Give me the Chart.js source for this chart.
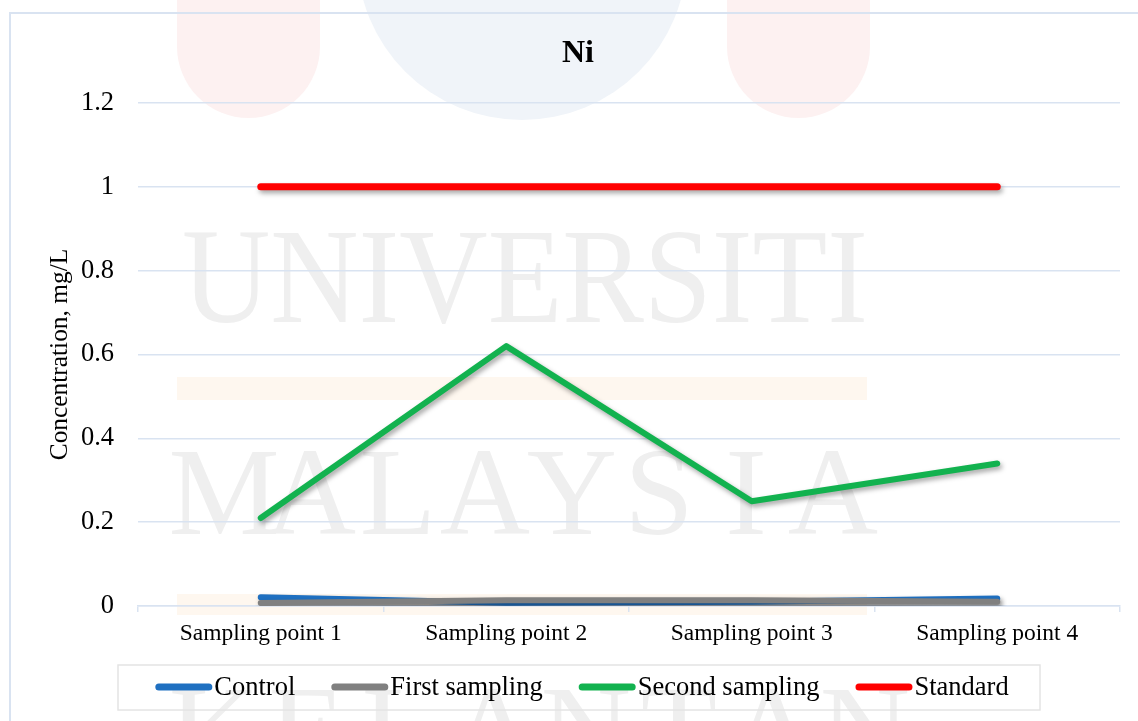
<!DOCTYPE html>
<html>
<head>
<meta charset="utf-8">
<script src="https://cdn.jsdelivr.net/npm/chart.js@4.4.1/dist/chart.umd.min.js"></script>
<style>
  html, body { margin: 0; padding: 0; background: #ffffff; overflow: hidden; }
  #wrap { width: 1138px; height: 721px; position: relative; }
  canvas { display: block; }
</style>
</head>
<body>
<div id="wrap"><canvas id="chart" width="1138" height="721"></canvas></div>
<script>
// ---- data ----
const chartTitle = 'Ni';
const axisTitle = 'Concentration, mg/L';
const categories = ['Sampling point 1', 'Sampling point 2', 'Sampling point 3', 'Sampling point 4'];
const yTicks = [0, 0.2, 0.4, 0.6, 0.8, 1, 1.2];
const yTickLabels = ['0', '0.2', '0.4', '0.6', '0.8', '1', '1.2'];
const controlValues = [0.021, 0.008, 0.010, 0.018];
const firstSamplingValues = [0.007, 0.014, 0.014, 0.010];
const secondSamplingValues = [0.21, 0.62, 0.25, 0.34];
const standardValues = [1, 1, 1, 1];
const seriesNames = ['Control', 'First sampling', 'Second sampling', 'Standard'];
const seriesColors = ['#1f70c1', '#808080', '#12b24f', '#ff0000'];
const watermarkWords = ['UNIVERSITI', 'MALAYSIA', 'KELANTAN'];

// ---- styling ----
const SERIF = '"Liberation Serif", "Times New Roman", Times, serif';
const GRID = '#d9e3f1';

// faint university crest and lettering behind the plot
const backdrop = {
  id: 'backdrop',
  beforeDraw(chart) {
    const ctx = chart.ctx;
    ctx.save();
    ctx.fillStyle = '#ffffff';
    ctx.fillRect(0, 0, chart.width, chart.height);

    const pill = (x0, x1, bottom, color) => {
      const r = (x1 - x0) / 2;
      ctx.fillStyle = color;
      ctx.beginPath();
      ctx.moveTo(x0, -300);
      ctx.lineTo(x0, bottom - r);
      ctx.arc(x0 + r, bottom - r, r, Math.PI, 0, true);
      ctx.lineTo(x1, -300);
      ctx.closePath();
      ctx.fill();
    };
    pill(177, 320, 118, '#fdf1f1');
    pill(727, 870, 118, '#fdf1f1');
    pill(357, 687, 120, '#f0f4f9');

    ctx.fillStyle = '#fef7ef';
    ctx.fillRect(177, 377, 690, 23);
    ctx.fillRect(177, 594, 690, 21);

    ctx.fillStyle = '#efefef';
    ctx.textBaseline = 'alphabetic';
    ctx.textAlign = 'left';
    ctx.font = '136px ' + SERIF;
    ctx.fillText(watermarkWords[0], 182, 322, 686);

    ctx.textAlign = 'center';
    ctx.font = '125px ' + SERIF;
    const spaced = (word, x0, step, base) => {
      [...word].forEach((ch, i) => ctx.fillText(ch, x0 + i * step, base));
    };
    spaced(watermarkWords[1], 224, 87, 534);
    spaced(watermarkWords[2], 214, 93, 772);

    // outer chart frame
    ctx.strokeStyle = GRID;
    ctx.lineWidth = 2;
    ctx.strokeRect(10, 13, 1400, 900);
    ctx.restore();
  }
};

// soft drop shadow under every series line
const lineShadow = {
  id: 'lineShadow',
  beforeDatasetDraw(chart) {
    const ctx = chart.ctx;
    ctx.save();
    ctx.shadowColor = 'rgba(0,0,0,0.35)';
    ctx.shadowBlur = 5;
    ctx.shadowOffsetX = 2;
    ctx.shadowOffsetY = 3;
  },
  afterDatasetDraw(chart) {
    chart.ctx.restore();
  }
};

// chart heading and legend row
const headingAndLegend = {
  id: 'headingAndLegend',
  afterDraw(chart) {
    const ctx = chart.ctx;
    ctx.save();
    ctx.fillStyle = '#000000';
    ctx.textAlign = 'center';
    ctx.textBaseline = 'middle';
    ctx.font = 'bold 32px ' + SERIF;
    ctx.fillText(chartTitle, 578, 54);

    // legend frame
    ctx.strokeStyle = '#e4e4e4';
    ctx.lineWidth = 1.5;
    ctx.strokeRect(118, 665, 922, 45);

    ctx.font = '26.5px ' + SERIF;
    ctx.textAlign = 'left';
    const lineW = 57, gap = 2, itemGap = 36, cy = 687;
    const items = chart.data.datasets.map(ds => ({
      label: ds.label, color: ds.borderColor, w: ctx.measureText(ds.label).width
    }));
    const total = items.reduce((s, it) => s + lineW + gap + it.w, 0) + itemGap * (items.length - 1);
    let x = 582 - total / 2;
    items.forEach(it => {
      ctx.strokeStyle = it.color;
      ctx.lineWidth = 7;
      ctx.lineCap = 'round';
      ctx.beginPath();
      ctx.moveTo(x + 3.5, cy);
      ctx.lineTo(x + lineW - 3.5, cy);
      ctx.stroke();
      ctx.fillStyle = '#000000';
      ctx.fillText(it.label, x + lineW + gap, cy + 1);
      x += lineW + gap + it.w + itemGap;
    });
    ctx.restore();
  }
};

const valueSets = [controlValues, firstSamplingValues, secondSamplingValues, standardValues];
const widths = [6, 6, 6, 7];

const datasets = seriesNames.map((name, i) => ({
  label: name,
  data: valueSets[i],
  borderColor: seriesColors[i],
  backgroundColor: seriesColors[i],
  borderWidth: widths[i],
  borderCapStyle: 'round',
  borderJoinStyle: 'round',
  pointRadius: 0,
  pointHoverRadius: 0,
  tension: 0,
  fill: false,
  order: seriesNames.length - i
}));

new Chart(document.getElementById('chart'), {
  type: 'line',
  data: { labels: categories, datasets },
  plugins: [backdrop, lineShadow, headingAndLegend],
  options: {
    responsive: false,
    animation: false,
    devicePixelRatio: 1,
    layout: { padding: { top: 103, right: 18, bottom: 0, left: 0 } },
    plugins: {
      legend: { display: false },
      title: { display: false },
      tooltip: { enabled: false }
    },
    scales: {
      x: {
        type: 'category',
        offset: true,
        grid: { offset: true, drawOnChartArea: false, drawTicks: true, tickLength: 6, color: GRID, lineWidth: 1.5 },
        border: { display: true, color: GRID, width: 1.5 },
        ticks: { padding: 8, color: '#000000', font: { family: SERIF, size: 23.5 }, maxRotation: 0, autoSkip: false },
        afterFit(scale) { scale.height = 115; }
      },
      y: {
        min: 0,
        max: 1.2,
        afterBuildTicks(scale) { scale.ticks = yTicks.map(v => ({ value: v })); },
        grid: { drawTicks: false, color: GRID, lineWidth: 1.5 },
        border: { display: false },
        ticks: {
          padding: 24,
          color: '#000000',
          font: { family: SERIF, size: 26.5 },
          callback: (value, index) => yTickLabels[index]
        },
        title: {
          display: true,
          text: axisTitle,
          color: '#000000',
          font: { family: SERIF, size: 25.4 },
          padding: { top: 45, bottom: 0 }
        },
        afterFit(scale) { scale.width = 138; }
      }
    }
  }
});
</script>
</body>
</html>
